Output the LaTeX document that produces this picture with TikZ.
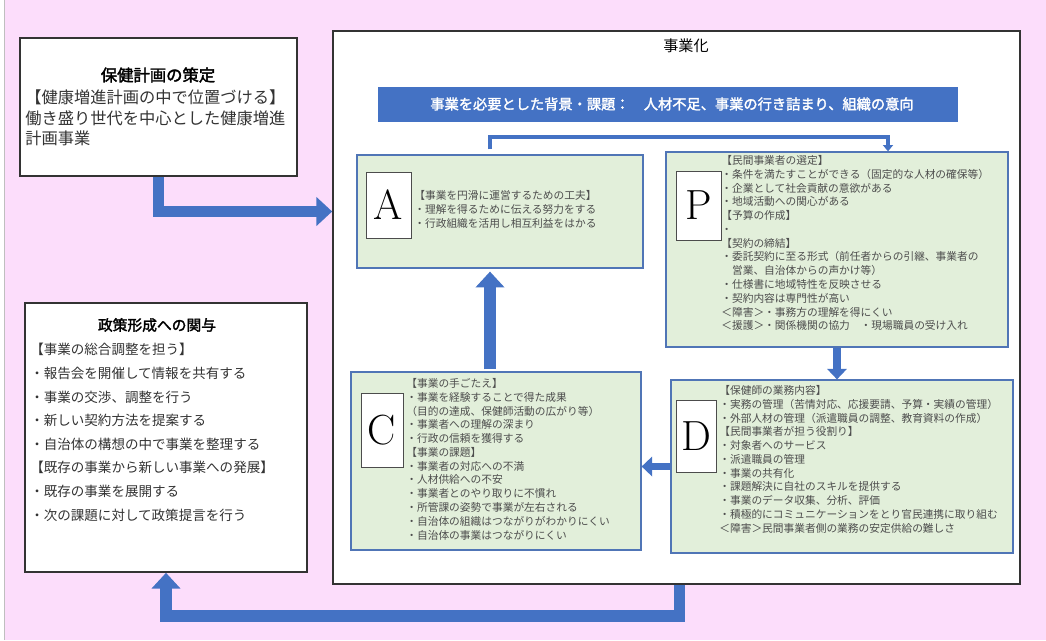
\documentclass[tikz,border=0pt]{standalone}
\usepackage{fontspec}
\newfontfamily\jp[AutoFakeBold=2]{Noto Sans CJK JP}
\usetikzlibrary{arrows.meta,fit,calc}
\definecolor{bgpink}{HTML}{FCDDFB}
\definecolor{barblue}{HTML}{4472C4}
\definecolor{boxgreen}{HTML}{E2EFDA}
\definecolor{txtgray}{HTML}{4D4D4D}
\tikzset{
    plainbox/.style={draw=black!80,line width=0.9pt,fill=white,inner sep=0pt},
    greenbox/.style={draw=barblue!80!gray,line width=0.7pt,fill=boxgreen,inner sep=0pt},
    letterbox/.style={draw=black!70,line width=0.5pt,fill=white,inner sep=0pt,font=\fontsize{24}{24}\selectfont},
    smalltxt/.style={inner sep=0pt,anchor=north west,align=left,text=txtgray,font=\jp\fontsize{6.1}{7.85}\selectfont},
    sidetxt/.style={inner sep=0pt,anchor=north west,align=left,text=black!80},
    bigarrow/.style={draw=barblue,line width=6.5pt,-{Triangle[width=16pt,length=9pt]}},
    midarrow/.style={draw=barblue,line width=4.5pt,-{Triangle[width=11pt,length=6pt]}},
    thinarrow/.style={draw=barblue,line width=2.2pt,-{Triangle[width=5.5pt,length=3.5pt]}},
}

\begin{document}
\begin{tikzpicture}[x=0.02cm,y=-0.02cm]
    \useasboundingbox (0,0) rectangle (1046,640);
    \fill[bgpink] (0,0) rectangle (1046,640);
    \fill[white] (0,0) rectangle (4,640);
    \draw[gray!50] (4,0) -- (4,640);

    % left side
    \node[plainbox,fit={(20,38) (297,176)}] (plan) {};
    \node[inner sep=0pt,font=\jp\bfseries\fontsize{9.3}{11}\selectfont] (plantitle) at (158,75) {保健計画の策定};
    \node[sidetxt,font=\jp\fontsize{9.25}{11.9}\selectfont] (plantxt) at (25,89) {【健康増進計画の中で位置づける】\\働き盛り世代を中心とした健康増進\\計画事業};

    \node[plainbox,fit={(25,303) (307,572)}] (policy) {};
    \node[inner sep=0pt,font=\jp\bfseries\fontsize{8.4}{10}\selectfont] (policytitle) at (157,325) {政策形成への関与};
    \node[sidetxt,font=\jp\fontsize{7.7}{13.45}\selectfont] (policytxt) at (30,343) {【事業の総合調整を担う】\\・報告会を開催して情報を共有する\\・事業の交渉、調整を行う\\・新しい契約方法を提案する\\・自治体の構想の中で事業を整理する\\【既存の事業から新しい事業への発展】\\・既存の事業を展開する\\・次の課題に対して政策提言を行う};

    % main frame
    \node[plainbox,fit={(333,31) (1020,584)}] (biz) {};
    \node[inner sep=0pt,font=\jp\fontsize{8.6}{10}\selectfont] (biztitle) at (686,46) {事業化};
    \node[fill=barblue,inner sep=0pt,fit={(378,87) (958,122)}] (bar) {};
    \node[text=white,inner sep=0pt,font=\jp\bfseries\fontsize{8.1}{9}\selectfont] (bartxt) at (672,104) {事業を必要とした背景・課題：　人材不足、事業の行き詰まり、組織の意向};

    % A P C D
    \node[greenbox,fit={(357,155) (643,268)}] (A) {};
    \node[letterbox,minimum width=0.9cm,minimum height=1.32cm] (Aletter) at (388.5,205) {A};
    \node[smalltxt] (Atxt) at (414,190) {【事業を円滑に運営するための工夫】\\・理解を得るために伝える努力をする\\・行政組織を活用し相互利益をはかる};

    \node[greenbox,fit={(666,152) (1008,347)}] (P) {};
    \node[letterbox,minimum width=0.9cm,minimum height=1.38cm] (Pletter) at (698.5,205.5) {P};
    \node[smalltxt] (Ptxt) at (721,155) {【民間事業者の選定】\\・条件を満たすことができる（固定的な人材の確保等）\\・企業として社会貢献の意欲がある\\・地域活動への関心がある\\【予算の作成】\\・\\【契約の締結】\\・委託契約に至る形式（前任者からの引継、事業者の\\　営業、自治体からの声かけ等）\\・仕様書に地域特性を反映させる\\・契約内容は専門性が高い\\＜障害＞・事務方の理解を得にくい\\＜援護＞・関係機関の協力　・現場職員の受け入れ};

    \node[greenbox,fit={(351,372) (641,550)}] (C) {};
    \node[letterbox,minimum width=0.84cm,minimum height=1.48cm] (Cletter) at (382,430) {C};
    \node[smalltxt] (Ctxt) at (406,378) {【事業の手ごたえ】\\・事業を経験することで得た成果\\（目的の達成、保健師活動の広がり等）\\・事業者への理解の深まり\\・行政の信頼を獲得する\\【事業の課題】\\・事業者の対応への不満\\・人材供給への不安\\・事業者とのやり取りに不慣れ\\・所管課の姿勢で事業が左右される\\・自治体の組織はつながりがわかりにくい\\・自治体の事業はつながりにくい};

    \node[greenbox,fit={(671,380) (1013,553)}] (D) {};
    \node[letterbox,minimum width=0.8cm,minimum height=1.44cm] (Dletter) at (696,436) {D};
    \node[smalltxt] (Dtxt) at (719,385) {【保健師の業務内容】\\・実務の管理（苦情対応、応援要請、予算・実績の管理）\\・外部人材の管理（派遣職員の調整、教育資料の作成）\\【民間事業者が担う役割り】\\・対象者へのサービス\\・派遣職員の管理\\・事業の共有化\\・課題解決に自社のスキルを提供する\\・事業のデータ収集、分析、評価\\・積極的にコミュニケーションをとり官民連携に取り組む\\＜障害＞民間事業者側の業務の安定供給の難しさ};

    % arrows
    \draw[bigarrow] (plan.south) |- (biz.west |- A.west);
    \draw[thinarrow] ($(A.north)+(-10,-5)$) -- ++(0,-12) -| ($(P.north)+(51,0)$);
    \draw[midarrow] (P.south) -- (P.south |- D.north);
    \draw[midarrow] (D.west) -- (D.west -| C.east);
    \draw[bigarrow] ($(C.north)+(-6,-2)$) -- ($(A.south)+(-10,3)$);
    \draw[bigarrow] ($(biz.south -| D.west)+(9,0)$) -- ++(0,31) -| (policy.south);
\end{tikzpicture}
\end{document}
